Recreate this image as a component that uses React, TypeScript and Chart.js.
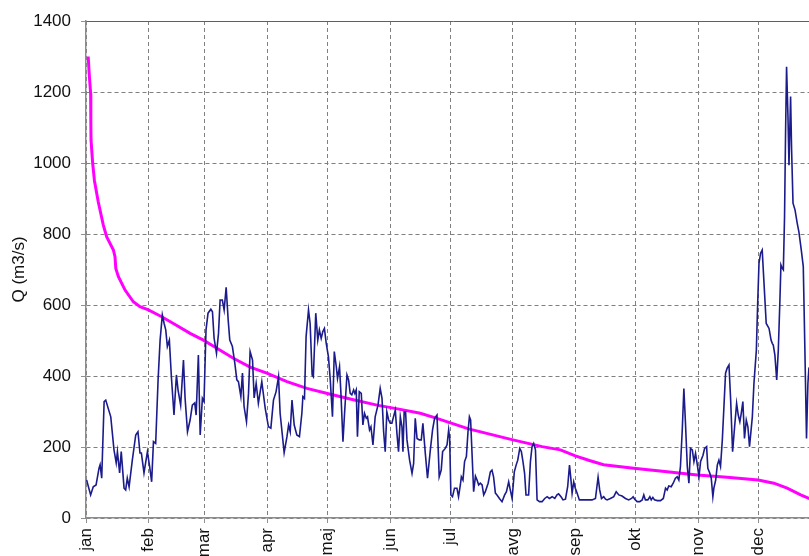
import { useEffect, useRef } from "react";
import { Chart, registerables } from "chart.js";

Chart.register(...registerables);

// Month tick labels and their day-of-year positions
const monthLabels = ["jan", "feb", "mar", "apr", "maj", "jun", "jul", "avg", "sep", "okt", "nov", "dec"];
const monthStartDays = [0, 31, 59, 90, 120, 151, 181, 212, 243, 273, 304, 334];

// Daily discharge (day of year, Q m3/s)
const dailyDay = [
  0.3, 2.3, 3.6, 5.0, 6.5, 7.0, 7.8, 9.0, 9.8, 12.3, 13.9, 15.0, 15.6, 16.7, 17.5, 18.9, 19.7, 20.5, 21.4, 23.0,
  24.7, 25.8, 26.8, 27.5, 28.8, 30.5, 31.6, 32.6, 33.5, 34.6, 35.8, 36.8, 37.9, 38.8, 39.6, 40.4, 41.4, 42.4, 43.7, 44.9,
  45.7, 47.0, 48.4, 49.2, 50.4, 51.7, 52.8, 54.0, 54.7, 55.8, 56.7, 57.8, 58.6, 59.6, 60.6, 62.0, 62.8, 63.6, 64.8, 65.8,
  66.6, 67.7, 68.6, 69.6, 70.6, 71.4, 72.7, 73.9, 74.9, 75.7, 76.9, 77.7, 78.5, 79.7, 80.7, 81.5, 82.7, 83.5, 84.5, 85.6,
  87.3, 89.0, 90.6, 91.8, 93.1, 94.4, 95.6, 96.4, 98.4, 99.8, 100.6, 101.4, 102.3, 103.4, 104.7, 106.0, 107.2, 107.7, 108.5, 109.3,
  110.5, 111.3, 112.3, 112.9, 114.1, 115.1, 115.9, 116.8, 117.6, 118.4, 119.3, 120.4, 121.3, 122.4, 123.3, 124.3, 124.9, 125.9, 126.6, 127.6,
  128.4, 129.6, 130.4, 131.2, 132.0, 132.9, 133.5, 134.2, 134.8, 135.7, 136.7, 137.5, 138.3, 139.2, 139.8, 140.8, 141.5, 142.5, 143.6, 145.0,
  146.1, 147.0, 147.8, 148.6, 149.4, 150.3, 151.1, 151.9, 152.7, 153.6, 154.4, 155.2, 156.1, 156.9, 157.4, 158.0, 158.7, 159.4, 160.7, 161.9,
  162.7, 163.5, 164.4, 165.5, 166.5, 167.3, 168.5, 169.6, 171.0, 172.1, 173.1, 174.3, 175.4, 176.4, 177.1, 178.4, 179.3, 180.1, 180.6, 181.2,
  182.0, 183.0, 184.2, 185.0, 185.9, 186.4, 187.2, 188.0, 188.9, 189.7, 190.4, 191.0, 191.7, 192.5, 193.4, 194.2, 195.0, 195.8, 196.7, 197.5,
  198.3, 199.7, 200.8, 201.6, 202.4, 203.3, 204.1, 205.3, 206.6, 207.9, 208.8, 209.9, 210.7, 211.6, 212.7, 213.6, 214.4, 215.4, 216.2, 217.0,
  217.8, 218.5, 219.8, 220.7, 221.5, 222.3, 223.2, 224.0, 225.2, 226.5, 227.8, 229.0, 230.1, 231.5, 232.8, 233.9, 234.7, 235.9, 236.9, 238.1,
  239.2, 240.1, 240.7, 241.4, 242.2, 243.0, 243.9, 245.0, 246.4, 248.0, 249.7, 251.3, 253.0, 254.3, 255.1, 256.0, 257.1, 258.0, 258.8, 260.4,
  262.1, 263.3, 264.6, 266.2, 267.9, 269.5, 270.9, 271.7, 272.5, 273.7, 275.0, 276.2, 277.0, 277.8, 279.0, 280.0, 280.7, 281.5, 282.3, 283.7,
  285.3, 286.7, 287.8, 288.6, 289.4, 290.6, 291.6, 292.7, 293.6, 294.4, 295.2, 296.1, 296.9, 297.7, 298.6, 299.4, 300.2, 301.1, 301.9, 302.7,
  303.6, 304.4, 305.2, 306.4, 307.2, 308.2, 308.8, 309.8, 310.5, 311.3, 311.8, 312.7, 313.5, 314.3, 315.1, 316.0, 316.8, 317.6, 318.4, 319.3,
  320.1, 321.1, 322.1, 323.1, 323.9, 324.7, 325.4, 326.2, 327.0, 327.9, 328.7, 329.5, 330.9, 331.7, 332.9, 333.5, 334.2, 335.0, 335.8, 336.7,
  337.8, 339.2, 340.2, 340.8, 341.3, 342.1, 343.0, 343.8, 344.6, 345.1, 345.8, 346.3, 346.9, 347.4, 347.9, 348.6, 349.1, 349.9, 350.4, 351.1,
  352.1, 353.2, 354.0, 355.2, 356.2, 357.0, 357.8, 358.5, 359.0, 360.0,
];
const dailyQ = [
  107, 65, 88, 93, 141, 150, 112, 328, 332, 285, 192, 155, 187, 127, 187, 84, 79, 112, 88, 163,
  234, 243, 183, 183, 127, 187, 145, 102, 215, 210, 389, 501, 572, 548, 530, 483, 501, 398, 290, 403,
  361, 318, 445, 338, 243, 276, 318, 324, 290, 459, 234, 337, 328, 530, 577, 588, 581, 507, 464, 520,
  614, 614, 586, 650, 558, 501, 483, 436, 389, 384, 342, 408, 314, 271, 351, 469, 445, 338, 379, 323,
  384, 309, 257, 253, 332, 356, 398, 295, 184, 229, 262, 243, 332, 262, 234, 229, 295, 342, 337, 511,
  586, 548, 403, 398, 577, 501, 530, 506, 525, 534, 492, 454, 389, 285, 469, 426, 393, 426, 351, 215,
  295, 403, 389, 351, 347, 361, 351, 361, 229, 356, 351, 262, 295, 281, 285, 248, 257, 206, 285, 318,
  365, 337, 243, 187, 299, 276, 267, 267, 285, 304, 239, 187, 285, 257, 187, 299, 299, 220, 163, 126,
  154, 281, 224, 220, 220, 267, 182, 112, 192, 248, 281, 290, 116, 135, 187, 196, 206, 248, 224, 65,
  60, 84, 84, 60, 93, 116, 107, 159, 173, 243, 285, 276, 182, 74, 118, 107, 93, 98, 93, 65,
  74, 98, 130, 135, 116, 70, 65, 55, 46, 65, 74, 102, 79, 55, 130, 149, 163, 196, 187, 159,
  126, 65, 65, 159, 201, 210, 192, 51, 46, 46, 55, 60, 55, 60, 55, 65, 68, 60, 51, 53,
  88, 149, 116, 70, 102, 84, 70, 51, 51, 51, 51, 51, 55, 115, 79, 55, 60, 53, 51, 55,
  60, 74, 65, 62, 55, 51, 55, 60, 53, 46, 46, 51, 65, 51, 51, 60, 51, 58, 51, 49,
  49, 55, 84, 79, 90, 88, 98, 112, 116, 107, 145, 248, 365, 267, 145, 98, 196, 192, 159, 182,
  149, 116, 159, 177, 196, 201, 140, 126, 112, 60, 84, 107, 149, 163, 145, 220, 314, 408, 422, 431,
  337, 187, 257, 323, 290, 271, 295, 328, 224, 276, 257, 201, 285, 379, 473, 595, 717, 746, 755, 661,
  548, 534, 501, 492, 487, 459, 389, 473, 614, 713, 703, 699, 849, 1084, 1271, 1130, 994, 1187, 1037, 887,
  868, 830, 807, 755, 708, 473, 224, 379, 422, 430,
];

// Flow duration curve (day, Q m3/s)
const durationDay = [
  1.1, 1.6, 2.3, 2.4, 2.5, 3.3, 4.2, 6.1, 8.6, 10.3, 13.6, 14.4, 14.8, 16.1, 19.4, 23.5, 26.8, 31.0, 37.6, 43.4,
  51.7, 58.3, 65.0, 73.2, 81.5, 89.8, 99.8, 109.7, 120.4, 131.2, 144.5, 156.1, 166.0, 173.5, 190.0, 212.0, 226.5, 235.6, 243.0, 250.0,
  257.0, 272.0, 288.6, 303.6, 318.4, 333.8, 341.6, 348.2, 354.9, 359.0, 365.0,
];
const durationQ = [
  1300, 1250, 1196, 1120, 1065, 1000, 950, 890, 825, 792, 755, 736, 703, 680, 642, 609, 595, 586, 567, 548,
  520, 501, 478, 450, 425, 408, 384, 365, 350, 335, 318, 306, 295, 282, 251, 220, 201, 192, 175, 162,
  150, 140, 130, 121, 115, 107, 98, 84, 65, 55, 40,
];

const FONT = '"Liberation Sans", Arial, sans-serif';

export default function App() {
  const ref = useRef<HTMLCanvasElement>(null);

  useEffect(() => {
    const canvas = ref.current;
    if (!canvas) return;
    const chart = new Chart(canvas, {
      type: "line",
      data: {
        datasets: [
          {
            label: "Q",
            data: dailyDay.map((d, i) => ({ x: d, y: dailyQ[i] })),
            borderColor: "#1b1b8c",
            borderWidth: 1.6,
            pointRadius: 0,
            tension: 0,
          },
          {
            label: "Duration",
            data: durationDay.map((d, i) => ({ x: d, y: durationQ[i] })),
            borderColor: "#ff00ff",
            borderWidth: 3,
            pointRadius: 0,
            tension: 0,
          },
        ],
      },
      options: {
        responsive: false,
        animation: false,
        layout: { padding: { top: 21, left: 0, right: 0, bottom: 0 } },
        plugins: { legend: { display: false }, tooltip: { enabled: false } },
        scales: {
          x: {
            type: "linear",
            min: 0,
            max: 365,
            afterBuildTicks: (s: any) => {
              s.ticks = monthStartDays.map((v) => ({ value: v }));
            },
            afterFit: (s: any) => {
              s.height = 40;
            },
            ticks: {
              autoSkip: false,
              minRotation: 90,
              maxRotation: 90,
              padding: 5,
              color: "#111",
              font: { family: FONT, size: 17 },
              callback: (_v: any, i: number) => monthLabels[i],
            },
            grid: { color: "#808080", lineWidth: 1, tickLength: 5, tickColor: "#909090" },
            border: { color: "#8c8c8c", width: 1.5, dash: [4, 3] },
          },
          y: {
            min: 0,
            max: 1400,
            afterFit: (s: any) => {
              s.width = 86;
            },
            ticks: {
              stepSize: 200,
              padding: 10,
              color: "#111",
              font: { family: FONT, size: 17 },
              callback: (v: any) => String(v),
            },
            grid: {
              color: (ctx: any) => (ctx.tick && ctx.tick.value === 1400 ? "#606060" : "#808080"),
              lineWidth: 1,
              tickLength: 5,
              tickColor: "#909090",
            },
            border: {
              color: "#8c8c8c",
              width: 1.5,
              dash: (ctx: any) => (ctx.tick && ctx.tick.value === 1400 ? [] : [4, 3]),
            },
            title: {
              display: true,
              text: "Q (m3/s)",
              color: "#111",
              font: { family: FONT, size: 17 },
              padding: { top: 9, bottom: 0 },
            },
          },
        },
      },
    });
    return () => chart.destroy();
  }, []);

  return (
    <div
      style={{
        position: "absolute",
        left: 0,
        top: 0,
        width: 809,
        height: 556,
        overflow: "hidden",
        background: "#fff",
      }}
    >
      <canvas ref={ref} width={821} height={558} style={{ display: "block" }} />
    </div>
  );
}
